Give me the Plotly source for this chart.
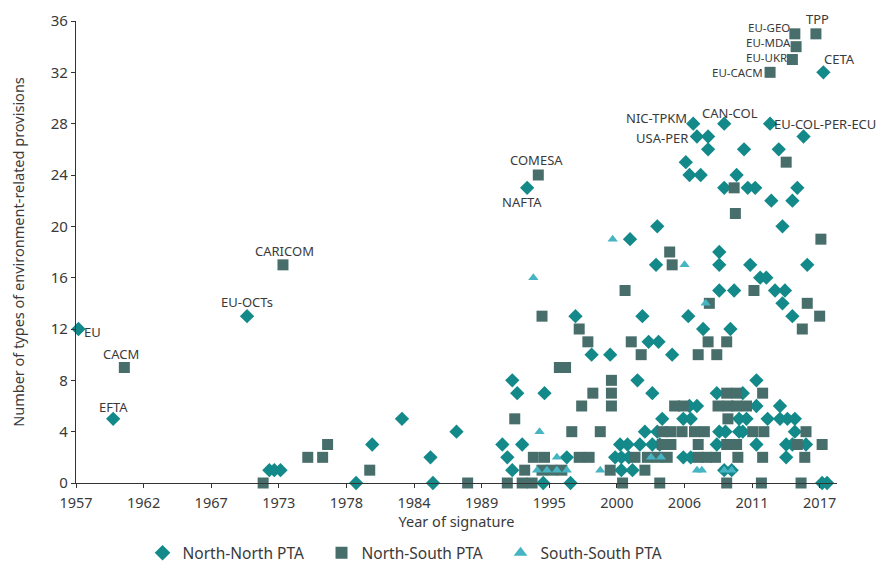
import plotly.graph_objects as go

# ---------------- data ----------------
# North-North PTA (diamonds)
nn_year = [1957.2, 1960.0, 1970.8, 1972.6, 1973.0, 1973.5, 1979.6, 1980.9, 1983.3, 1985.6, 1985.8, 1987.7,
           1991.4, 1993.0, 1991.8, 1992.2, 1992.2, 1992.6, 1994.8, 1993.4, 1996.6, 1994.7, 1996.9,
           1997.3, 1998.6, 2000.1, 2002.3, 2003.5, 2004.3, 2001.7, 2003.9, 2003.8, 2002.7, 2006.4,
           2003.2, 2004.0, 2005.1, 2001.0, 2001.9,
           2008.7, 2010.8, 2006.5, 2007.1, 2011.9, 2013.8, 2011.9,
           2006.0, 2006.6, 2010.5, 2011.1, 2012.8, 2013.8, 2014.4, 2015.0,
           2002.9, 2003.9, 2008.9, 2009.4, 2010.5, 2010.8, 2015.0,
           2000.9, 2001.5, 2002.5, 2003.5, 2004.1, 2008.7, 2011.9, 2014.3, 2014.8, 2015.9,
           2000.5, 2001.0, 2001.6, 2006.0, 2006.6, 2014.3,
           2009.3, 2009.9, 2017.2, 2017.6,
           2006.8, 2009.3, 2013.0, 2007.1, 2008.0, 2015.7, 2008.0, 2010.9, 2013.7, 2006.2,
           2006.5, 2007.4, 2010.3, 2009.3, 2011.2, 2011.8, 2015.2, 2013.1, 2014.8, 2014.0,
           2008.9, 2008.9, 2011.4, 2016.0, 2012.2, 2012.7, 2008.9, 2010.1, 2013.4, 2014.2,
           2014.0, 2014.8, 2007.6, 2009.8, 2017.3]
nn_val = [12, 5, 13, 1, 1, 1, 0, 3, 5, 2, 0, 4,
          3, 3, 2, 1, 8, 7, 7, 23, 2, 0, 0,
          13, 10, 10, 8, 7, 5, 19, 20, 17, 13, 13,
          11, 11, 10, 1, 1,
          7, 7, 6, 6, 8, 6, 6,
          5, 5, 5, 5, 5, 5, 5, 5,
          4, 4, 4, 4, 4, 4, 4,
          3, 3, 3, 3, 3, 3, 3, 3, 3, 3,
          2, 2, 2, 2, 2, 2,
          1, 1, 0, 0,
          28, 28, 28, 27, 27, 27, 26, 26, 26, 25,
          24, 24, 24, 23, 23, 23, 23, 22, 22, 20,
          18, 17, 17, 17, 16, 16, 15, 15, 15, 15,
          14, 13, 12, 12, 32]

# North-South PTA (squares)
ns_year = [1960.9, 1973.7, 1972.1, 1975.7, 1976.9, 1977.3, 1980.7, 1988.6,
           1994.3, 1994.6, 1997.6, 1998.3, 2001.8, 2002.6, 1996.0, 1996.5, 2000.2, 1998.7, 2000.2,
           1997.8, 2000.2, 1992.4, 1997.0, 1999.3, 1993.9, 1994.8, 1997.6, 1998.4, 1993.2, 1994.6,
           1995.4, 1996.2, 2000.1, 2002.9, 1991.8, 1993.0, 1993.8, 2001.1, 2004.1, 2001.3,
           2004.9, 2005.1, 2010.1, 2010.2, 2014.3, 2017.1, 2011.7, 2008.1, 2016.0, 2017.0,
           2015.6, 2008.0, 2009.5, 2007.2, 2008.7,
           2015.0, 2016.7, 2015.1, 2014.8, 2013.0,
           2009.5, 2010.3, 2012.4,
           2005.3, 2006.0, 2008.8, 2009.6, 2010.3, 2011.1,
           2009.6,
           2004.3, 2005.0, 2005.9, 2006.9, 2007.7, 2011.6, 2012.5, 2015.9,
           2004.3, 2005.0, 2007.2, 2009.5, 2010.3, 2015.2, 2017.2,
           2002.1, 2003.1, 2003.9, 2004.7, 2007.2, 2007.9, 2008.6, 2010.4, 2012.4, 2015.8,
           2009.5, 2012.3, 2015.5]
ns_val = [9, 17, 0, 2, 2, 3, 1, 0,
          24, 13, 12, 11, 11, 10, 9, 9, 8, 7, 7,
          6, 6, 5, 4, 4, 2, 2, 2, 2, 1, 1,
          1, 1, 1, 1, 0, 0, 0, 0, 0, 15,
          18, 17, 23, 21, 25, 19, 15, 14, 14, 13,
          12, 11, 11, 10, 10,
          35, 35, 34, 33, 32,
          7, 7, 7,
          6, 6, 6, 6, 6, 6,
          5,
          4, 4, 4, 4, 4, 4, 4, 4,
          3, 3, 3, 3, 3, 3, 3,
          2, 2, 2, 2, 2, 2, 2, 2, 2, 2,
          0, 0, 0]

# South-South PTA (triangles)
ss_year = [1993.9, 2000.3, 2006.1, 2007.8, 1994.4, 1995.8, 1994.2, 1995.0, 1995.8, 1996.6,
           1999.3, 2007.1, 2007.5, 2009.3, 2009.9, 2003.4, 2004.2]
ss_val = [16, 19, 17, 14, 4, 2, 1, 1, 1, 1,
          1, 1, 1, 1, 1, 2, 2]

# Labelled agreements
label_text = ["EU", "CACM", "EFTA", "EU-OCTs", "CARICOM", "COMESA", "NAFTA", "NIC-TPKM", "CAN-COL",
              "USA-PER", "EU-COL-PER-ECU", "EU-CACM", "EU-UKR", "EU-MDA", "EU-GEO", "TPP", "CETA"]
label_year = [1957.2, 1960.9, 1960.0, 1970.8, 1973.7, 1994.3, 1993.4, 2006.8, 2009.3,
              2007.1, 2013.0, 2013.0, 2014.8, 2015.1, 2015.0, 2016.7, 2017.3]
label_val = [12, 9, 5, 13, 17, 24, 23, 28, 28, 27, 28, 32, 33, 34, 35, 35, 32]

# axis ticks
tick_labels = ["1957", "1962", "1967", "1973", "1978", "1984", "1989", "1995", "2000", "2006", "2011", "2017"]
tick_vals = [1957 + i * 60 / 11 for i in range(len(tick_labels))]
y_ticks = [0, 4, 8, 12, 16, 20, 24, 28, 32, 36]

# ---------------- styles ----------------
C_NN = "#13898a"
C_NS = "#476e6b"
C_SS = "#46b4c2"
FONT = "Noto Sans"
TXT = "#3a3a3a"

# label placement (xanchor, yanchor, xshift, yshift, font size) per label
label_pos = {
    "EU": ("left", "middle", 5, -3, 13),
    "CACM": ("center", "bottom", -3, 4, 13),
    "EFTA": ("center", "bottom", 0, 2, 13),
    "EU-OCTs": ("center", "bottom", 0, 4, 13),
    "CARICOM": ("center", "bottom", 2, 4, 13),
    "COMESA": ("center", "bottom", -2, 5, 13),
    "NAFTA": ("center", "top", -5, -4, 13),
    "NIC-TPKM": ("right", "middle", -5, 6, 13),
    "CAN-COL": ("center", "bottom", 6, 1, 13),
    "USA-PER": ("right", "middle", -8, -1, 13),
    "EU-COL-PER-ECU": ("left", "middle", 3, 0, 13),
    "EU-CACM": ("right", "middle", -6, 0, 11.5),
    "EU-UKR": ("right", "middle", -4, 2, 11.5),
    "EU-MDA": ("right", "middle", -4, 4, 11.5),
    "EU-GEO": ("right", "middle", -4, 6, 11.5),
    "TPP": ("center", "bottom", 2, 5, 13),
    "CETA": ("center", "bottom", 16, 3, 13),
}

fig = go.Figure()
fig.add_trace(go.Scatter(x=nn_year, y=nn_val, mode="markers", name="North-North PTA",
                         marker=dict(symbol="diamond", size=11, color=C_NN, line=dict(width=0)),
                         cliponaxis=False))
fig.add_trace(go.Scatter(x=ns_year, y=ns_val, mode="markers", name="North-South PTA",
                         marker=dict(symbol="square", size=11, color=C_NS, line=dict(width=0)),
                         cliponaxis=False))
fig.add_trace(go.Scatter(x=ss_year, y=ss_val, mode="markers", name="South-South PTA",
                         marker=dict(symbol="triangle-up", size=9, color=C_SS, line=dict(width=0)),
                         cliponaxis=False))

for t, xv, yv in zip(label_text, label_year, label_val):
    xa, ya, xs, ys, fs = label_pos[t]
    fig.add_annotation(x=xv, y=yv, text=t, showarrow=False, xanchor=xa, yanchor=ya,
                       xshift=xs, yshift=ys, borderpad=0,
                       font=dict(family=FONT, size=fs, color=TXT))

fig.update_layout(
    width=885, height=569,
    margin=dict(l=68, r=56, t=13, b=94, autoexpand=False),
    paper_bgcolor="white", plot_bgcolor="white",
    font=dict(family=FONT, size=13, color=TXT),
    showlegend=True,
    legend=dict(orientation="h", x=0.152, xanchor="left", xref="container",
                y=0.042, yanchor="middle", yref="container",
                font=dict(family=FONT, size=15.5, color=TXT), itemsizing="constant",
                traceorder="normal", entrywidth=134, bgcolor="rgba(0,0,0,0)"),
    xaxis=dict(range=[1957, 2018.4], tickvals=tick_vals, ticktext=tick_labels, automargin=False,
               showgrid=False, zeroline=False, showline=True, linecolor="#333", linewidth=1.2,
               ticks="outside", ticklen=4, tickcolor="#333", ticklabelstandoff=2,
               tickfont=dict(family=FONT, size=14.5, color=TXT),
               title=dict(text="Year of signature", standoff=2,
                          font=dict(family=FONT, size=14.5, color=TXT))),
    yaxis=dict(range=[0, 36], tickvals=y_ticks, showgrid=False, zeroline=False, automargin=False,
               showline=True, linecolor="#333", linewidth=1.2,
               ticks="outside", ticklen=4, tickcolor="#333",
               tickfont=dict(family=FONT, size=15, color=TXT),
               title=dict(text="Number of types of environment-related provisions", standoff=26,
                          font=dict(family=FONT, size=14.5, color=TXT))),
)

fig.write_html("out.html")
